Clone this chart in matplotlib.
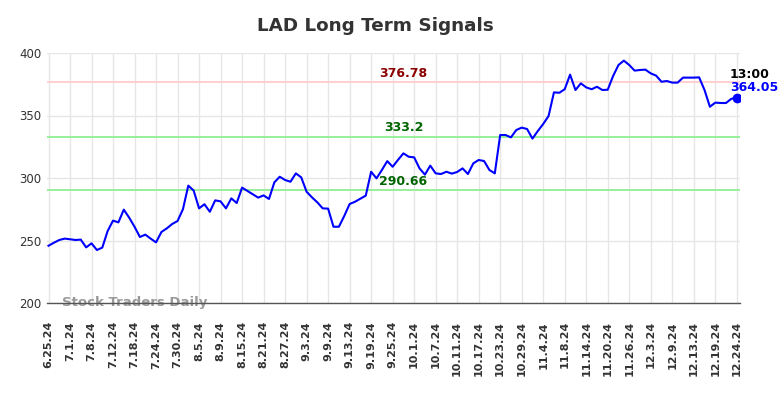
import matplotlib
matplotlib.use("Agg")
import matplotlib.pyplot as plt

values = [
    245.8, 248.2, 250.4, 251.5, 251.0, 250.4, 250.7, 244.5, 247.7, 242.4,
    244.3, 257.6, 265.9, 264.5, 274.7, 268.3, 261.0, 252.8, 254.7, 251.5,
    248.5, 256.8, 259.7, 263.2, 265.6, 275.0, 293.9, 289.9, 275.7, 279.0,
    273.0, 282.1, 281.3, 275.7, 283.7, 280.0, 292.3, 289.6, 286.9, 284.3,
    286.1, 283.2, 296.5, 301.0, 298.4, 297.0, 303.7, 300.5, 289.0, 284.5,
    280.5, 275.7, 275.5, 261.0, 261.0, 269.6, 279.2, 281.0, 283.4, 285.9,
    305.0, 299.7, 306.4, 313.5, 309.0, 314.5, 319.7, 317.0, 316.5, 307.7,
    302.7, 309.9, 303.7, 303.2, 305.0, 303.5, 304.8, 307.7, 303.2, 311.7,
    314.4, 313.6, 306.4, 303.7, 334.4, 334.4, 332.5, 338.4, 340.3, 339.2,
    331.5, 337.6, 343.2, 349.6, 368.5, 368.2, 371.0, 382.7, 370.4, 375.7,
    372.5, 371.0, 373.0, 370.4, 370.6, 381.6, 390.4, 393.9, 390.4, 385.9,
    386.4, 386.7, 383.7, 381.9, 377.0, 377.6, 376.3, 376.3, 380.3, 380.3,
    380.3, 380.5, 370.4, 357.0, 360.3, 360.0, 360.0, 363.4, 364.05,
]

tick_labels = [
    "6.25.24", "7.1.24", "7.8.24", "7.12.24", "7.18.24", "7.24.24", "7.30.24",
    "8.5.24", "8.9.24", "8.15.24", "8.21.24", "8.27.24", "9.3.24", "9.9.24",
    "9.13.24", "9.19.24", "9.25.24", "10.1.24", "10.7.24", "10.11.24",
    "10.17.24", "10.23.24", "10.29.24", "11.4.24", "11.8.24", "11.14.24",
    "11.20.24", "11.26.24", "12.3.24", "12.9.24", "12.13.24", "12.19.24",
    "12.24.24",
]
tick_step = 4

resistance = 376.78
supports = [333.2, 290.66]
last_time = "13:00"
title = "LAD Long Term Signals"
watermark = "Stock Traders Daily"

plt.rcParams['font.family'] = ['DejaVu Sans']

fig = plt.figure(figsize=(7.84, 3.98), dpi=100)
ax = fig.add_axes([47/784, 1 - 303/398, (740 - 47)/784, (303 - 53)/398])

x = list(range(len(values)))
ax.set_xlim(-0.28, len(values) - 1 + 0.6)
ax.set_ylim(200, 400)

ax.set_yticks([200, 250, 300, 350, 400])
ticks = list(range(0, len(values), tick_step))
ax.set_xticks(ticks)
ax.set_xticklabels(tick_labels, rotation=90, fontsize=8, fontweight='bold',
                   color='#333333')
ax.tick_params(axis='x', length=0, pad=13)
ax.tick_params(axis='y', length=0, pad=4, labelsize=8.5, labelcolor='#333333')

ax.grid(True, color='#e6e6e6', linewidth=1)
ax.set_axisbelow(True)
for s in ['top', 'right', 'left']:
    ax.spines[s].set_visible(False)
ax.spines['bottom'].set_color('#555555')
ax.spines['bottom'].set_linewidth(1)
ax.spines['bottom'].set_zorder(6)

ax.axhline(resistance, color='#ffcccc', linewidth=1.3, zorder=1.5)
for s in supports:
    ax.axhline(s, color='#90ee90', linewidth=1.3, zorder=1.5)

ax.plot(x, values, color='#0000ff', linewidth=1.5, zorder=3)
ax.plot([x[-1]], [values[-1]], 'o', color='#0000ff', markersize=6, zorder=4)

lx = 66
ax.annotate(f"{resistance:g}", (lx, resistance), xytext=(0, 1.5),
            textcoords='offset points', ha='center', va='bottom',
            fontsize=9, fontweight='bold', color='#8b0000')
for s in supports:
    ax.annotate(f"{s:g}", (lx, s), xytext=(0, 1.5),
                textcoords='offset points', ha='center', va='bottom',
                fontsize=9, fontweight='bold', color='#006400')

ax.annotate(last_time, (x[-1], values[-1]), xytext=(-5, 12.5),
            textcoords='offset points', ha='left', va='bottom',
            fontsize=9, fontweight='bold', color='#000000',
            annotation_clip=False)
ax.annotate(f"{values[-1]:.2f}", (x[-1], values[-1]), xytext=(-5, 3),
            textcoords='offset points', ha='left', va='bottom',
            fontsize=9, fontweight='bold', color='#0000ff',
            annotation_clip=False)

ax.text(62/784, 1 - 302.5/398, watermark, transform=fig.transFigure,
        ha='left', va='center', fontsize=9.5, fontweight='bold',
        color='#999999', zorder=5)

fig.text(375/784, 1 - 26/398, title, ha='center', va='center',
         fontsize=13.2, fontweight='bold', color='#333333')

fig.savefig("out.png", dpi=100)
